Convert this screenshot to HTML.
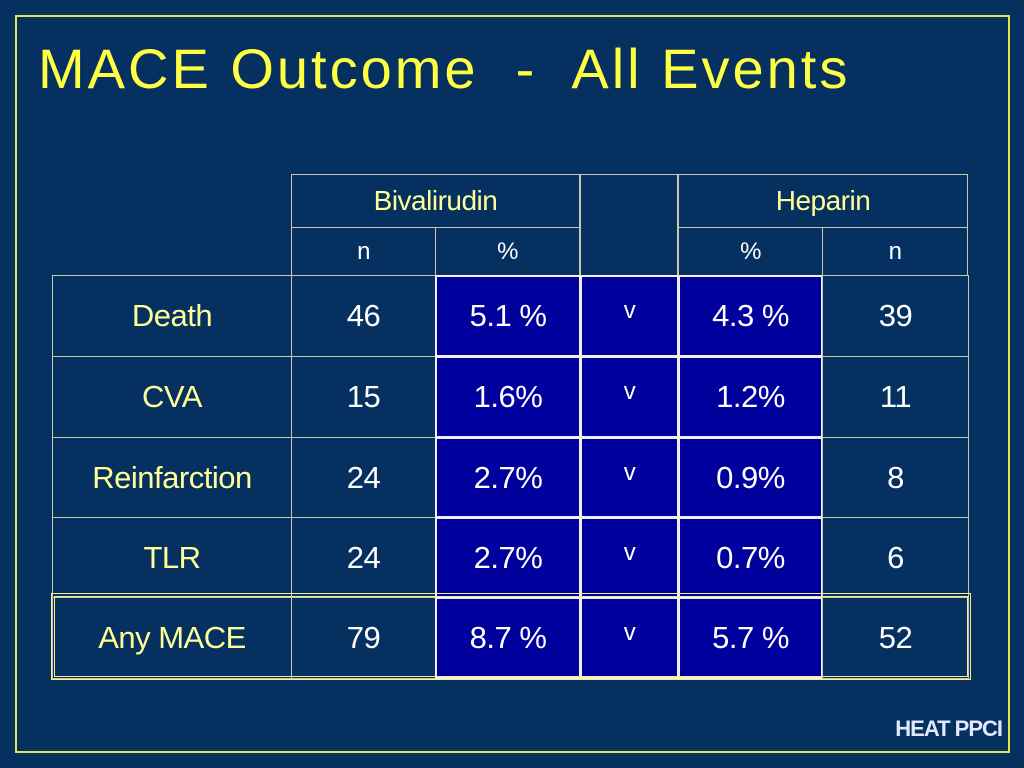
<!DOCTYPE html>
<html><head><meta charset="utf-8"><style>
body{margin:0;width:1024px;height:768px;background:#06305f;position:relative;overflow:hidden;font-family:"Liberation Sans",sans-serif}
.frame{position:absolute;left:15px;top:15px;width:991px;height:734px;border:2px solid #e6e64a}
.title{position:absolute;left:38px;top:36px;font-size:56px;color:#ffff44;white-space:pre;letter-spacing:3px}
.c{position:absolute;box-sizing:border-box;border:1px solid #c8c8b0;display:flex;align-items:center;justify-content:center;color:#fff;font-size:31px;letter-spacing:-0.5px}
.b{background:#00009c;border:2px solid #f0f0f0}
.y{color:#ffff99}
.h{font-size:28px;color:#ffff99}
.s{font-size:24px}
.v{font-size:24px;align-items:flex-start;padding-top:20px}
.mace{position:absolute;left:51px;top:593px;width:920px;height:87px;border:4px double #f5f08a;box-sizing:border-box}
.foot{position:absolute;right:22px;top:716px;font-size:22px;font-weight:bold;color:#e0e8ff;letter-spacing:-1px}
</style></head><body>
<div class="frame"></div>
<div class="title">MACE Outcome  -  All Events</div>
<div id="t"></div>
<div class="mace"></div>
<div class="foot">HEAT PPCI</div>
<script>
const labels=["Death","CVA","Reinfarction","TLR","Any MACE"];
const bivN=["46","15","24","24","79"];
const bivP=["5.1 %","1.6%","2.7%","2.7%","8.7 %"];
const hepP=["4.3 %","1.2%","0.9%","0.7%","5.7 %"];
const hepN=["39","11","8","6","52"];
const xs=[52,291,435,580,678,822,968];
const ys=[275,356,437,517,597,678];
const t=document.getElementById('t');
function cell(x,y,w,h,txt,cls,name){
 const d=document.createElement('div');
 d.className='c '+cls;
 d.style.left=x+'px';d.style.top=y+'px';d.style.width=w+'px';d.style.height=h+'px';
 d.textContent=txt;
 
 
 t.appendChild(d);
}
cell(291,174,289,54,'Bivalirudin','h','bivalirudin-header');
cell(580,174,98,102,'','','vs-header');
cell(678,174,290,54,'Heparin','h','heparin-header');
cell(291,227,145,49,'n','s','biv-n-header');
cell(435,227,145,49,'%','s','biv-pct-header');
cell(678,227,145,49,'%','s','hep-pct-header');
cell(822,227,146,49,'n','s','hep-n-header');
labels.forEach((l,i)=>{
 const y=ys[i],h=ys[i+1]-y+1;
 const cols=[[l,'y','label'],[bivN[i],'','biv-n'],[bivP[i],'b','biv-pct'],['v','b v','vs'],[hepP[i],'b','hep-pct'],[hepN[i],'','hep-n']];
 cols.forEach((c,j)=>cell(xs[j],y,xs[j+1]-xs[j]+1,h,c[0],c[1],c[2]+'-'+i));
});
</script>
</body></html>
